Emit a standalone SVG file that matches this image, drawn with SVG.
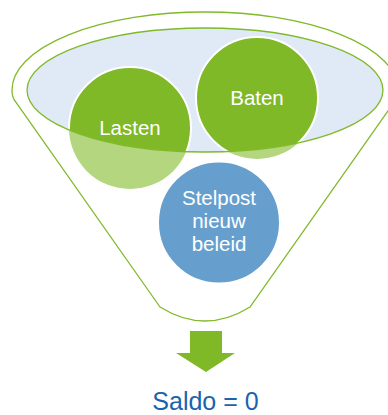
<svg xmlns="http://www.w3.org/2000/svg" width="388" height="415" viewBox="0 0 388 415">
<style>
.lbl{font-family:"Liberation Sans",Arial,sans-serif;font-size:20.5px;fill:#ffffff;text-anchor:middle}
.outline{fill:#ffffff;stroke:#80b92a;stroke-width:1.3}
.green{fill:#80b927;stroke:#ffffff;stroke-width:2}
.light{fill:#b3d67f}
</style>
<defs>
<clipPath id="inner"><ellipse cx="205" cy="90" rx="178" ry="62"/></clipPath>
</defs>
<g id="funnel">
<path class="outline" d="M160,307 L15,101 Q12,97 12,90 A193,78 0 0 1 398,90 Q398,97 395,101 L250,307 Q205,335 160,307 Z"/>
<ellipse cx="205" cy="90" rx="178" ry="62" fill="#dfeaf6"/>
</g>
<g id="lasten">
<circle class="light" cx="130" cy="128" r="61"/>
<circle class="green" cx="130" cy="128" r="61" clip-path="url(#inner)"/>
</g>
<g id="baten">
<circle class="light" cx="257" cy="98" r="61"/>
<circle class="green" cx="257" cy="98" r="61" clip-path="url(#inner)"/>
</g>
<ellipse cx="205" cy="90" rx="178" ry="62" fill="none" stroke="#80b92a" stroke-width="1.3"/>
<text class="lbl" x="130" y="135">Lasten</text>
<text class="lbl" x="257" y="105">Baten</text>
<g id="stelpost">
<circle cx="219" cy="222.5" r="61" fill="#669fcd" stroke="#ffffff" stroke-width="2"/>
<text class="lbl"><tspan x="219" y="205">Stelpost</tspan><tspan x="219" y="228">nieuw</tspan><tspan x="219" y="251">beleid</tspan></text>
</g>
<g id="connectors">
<path d="M190,331 H222 V353 H235 L206,372 L176,353 H190 Z" fill="#80b927"/>
</g>
<g id="saldo">
<text x="205.5" y="409.5" font-family="Liberation Sans, Arial, sans-serif" font-size="25" fill="#1a63ad" text-anchor="middle">Saldo = 0</text>
</g>
</svg>
